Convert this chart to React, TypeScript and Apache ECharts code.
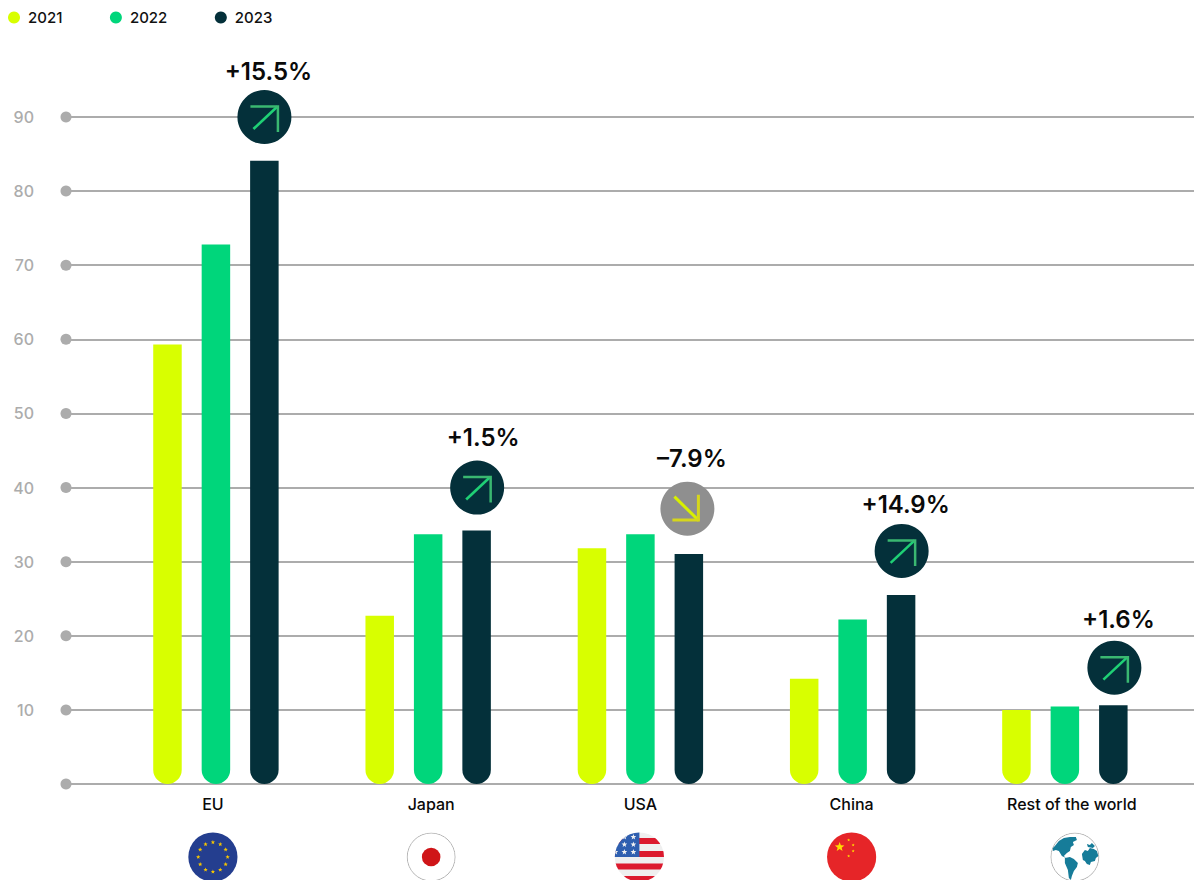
import React, { useEffect, useRef } from "react";
import * as echarts from "echarts";

const categories = ["EU", "Japan", "USA", "China", "Rest of the world"];
const values2021 = [59.3, 22.7, 31.8, 14.2, 10];
const values2022 = [72.8, 33.7, 33.7, 22.2, 10.45];
const values2023 = [84.1, 34.2, 31.05, 25.5, 10.62];
const changeLabels = ["+15.5%", "+1.5%", "–7.9%", "+14.9%", "+1.6%"];
const badgeLevels = [90, 40, 37.15, 31.45, 15.7];
const yTicks = [0, 10, 20, 30, 40, 50, 60, 70, 80, 90];

const LIME = "#d8ff00";
const GREEN = "#00d67b";
const DARK = "#04303a";
const GRID_GREY = "#acacac";
const FONT = "Inter";

const PLOT_TOP = 117;
const PLOT_BOTTOM = 96;
const BAR_STEP = 48.5;

const svgUri = (body: string) =>
  "data:image/svg+xml;charset=utf-8," +
  encodeURIComponent(
    `<svg xmlns="http://www.w3.org/2000/svg" width="100" height="100" viewBox="0 0 50 50"><defs><clipPath id="c"><circle cx="25" cy="25" r="24.6"/></clipPath></defs><g clip-path="url(#c)">${body}</g></svg>`
  );

const starPoints = (cx: number, cy: number, r: number) => {
  const pts: string[] = [];
  for (let i = 0; i < 10; i++) {
    const a = -Math.PI / 2 + (i * Math.PI) / 5;
    const rad = i % 2 ? r * 0.42 : r;
    pts.push(`${(cx + rad * Math.cos(a)).toFixed(2)},${(cy + rad * Math.sin(a)).toFixed(2)}`);
  }
  return pts.join(" ");
};
const star = (cx: number, cy: number, r: number, fill: string) =>
  `<polygon points="${starPoints(cx, cy, r)}" fill="${fill}"/>`;

const euStars = Array.from({ length: 12 }, (_, i) => {
  const a = (i * Math.PI) / 6;
  return star(25 + 14.7 * Math.sin(a), 25 - 14.7 * Math.cos(a), 2.3, "#f7c600");
}).join("");

const usStripes = [6, 19, 31.5, 44]
  .map((y) => `<rect x="0" y="${y}" width="50" height="6" fill="#dc1a2e"/>`)
  .join("");
const usStars = [
  [19, 5], [10, 5], [19, 12.5], [10, 12.5], [1, 12.5], [19, 20], [10, 20], [1, 20],
]
  .map(([x, y]) => star(x, y, 3, "#f1f1f1"))
  .join("");

const flagImages = [
  svgUri(`<rect width="50" height="50" fill="#243e8f"/>${euStars}`),
  svgUri(
    `<circle cx="25" cy="25" r="24" fill="#fff" stroke="#b4b4b4" stroke-width="1"/><circle cx="25" cy="25" r="9.3" fill="#cf1518"/>`
  ),
  svgUri(
    `<rect width="50" height="50" fill="#efefef"/>${usStripes}<rect width="25" height="25" fill="#2f5fb0"/>${usStars}`
  ),
  svgUri(
    `<rect width="50" height="50" fill="#e62528"/>${star(13, 15, 5, "#ffde00")}${star(22, 8, 1.6, "#ffde00")}${star(26.5, 13, 1.6, "#ffde00")}${star(26.5, 19, 1.6, "#ffde00")}${star(22, 24, 1.6, "#ffde00")}`
  ),
  svgUri(
    `<circle cx="25" cy="25" r="24" fill="#fff" stroke="#b4b4b4" stroke-width="1"/>
     <g fill="#167c99">
       <path d="M5 14 L9 9 L14 6 L20 5 L26 5 L27 8 L23 10 L24 13 L21 15 L20 19 L17 21 L14 24 L16 26 L12 24 L9 19 L6 18 L3 19 L3 16 Z"/>
       <path d="M15 26 L20 25 L24 27 L28 31 L27 35 L24 39 L22 44 L21 48 L19 46 L18 38 L15 31 Z"/>
       <path d="M32 22 L35 18 L38 19 L40 16 L44 17 L47 19 L48.5 24 L46 26 L45 29 L41 30 L40 33 L37 32 L35 29 L33 28 Z"/>
       <path d="M37 12 L40 13 L42 11 L45 14 L43 16 L38 15 Z"/>
     </g>`
  ),
];
const flagShift = [-3, 3, -1, -1, 10];
const flagCentreY = 857;
const flagDiameter = 50;

// Label centres sit slightly off the category centres, handled through rich-text padding.
const labelPadding = [
  [0, 6, 0, 0],
  [0, 0, 2, 6],
  [0, 0, 0, 0],
  [0, 2, 4, 0],
  [0, 0, 4, 14],
];

// Badge nudges around the third bar of each group, and the height of the text above each badge.
const badgeNudge = [0, 0.5, -1.5, 0.5, 1];
const textRise = [46, 50.5, 50.5, 46, 48.5];
const textShift = [4, 6, 4.5, 4, 4];

const badgeItem = (_params: any, api: any) => {
  const index = api.value(0);
  const [cx0, cy] = api.coord([index, api.value(1)]);
  const cx = cx0 + BAR_STEP + badgeNudge[index];
  const up = changeLabels[index].startsWith("+");
  const shaft = up ? [[-11, 12], [13, -10.5]] : [[-13, -12], [11.5, 12]];
  const head = up
    ? [[-14, -10.5], [13.5, -10.5], [13.5, 15]]
    : [[-15, 11.3], [11, 11.3], [11, -14]];
  return {
    type: "group",
    x: cx,
    y: cy,
    children: [
      { type: "circle", shape: { cx: 0, cy: 0, r: 27 }, style: { fill: up ? DARK : "#8f8f8f" } },
      {
        type: "line",
        shape: { x1: shaft[0][0], y1: shaft[0][1], x2: shaft[1][0], y2: shaft[1][1] },
        style: { stroke: up ? "#1fd075" : "#d8f000", lineWidth: up ? 2.6 : 3, fill: "none" },
      },
      {
        type: "polyline",
        shape: { points: head },
        style: { stroke: up ? "#3ab871" : "#d6d61c", lineWidth: up ? 2.5 : 3, fill: "none" },
      },
      {
        type: "text",
        x: textShift[index],
        y: -textRise[index],
        style: {
          text: changeLabels[index],
          fontFamily: FONT,
          fontSize: 24,
          fontWeight: 600,
          fill: "#0a0a0a",
          align: "center",
          verticalAlign: "middle",
        },
      },
    ],
  };
};

const flagItem = (_params: any, api: any) => {
  const index = api.value(0);
  const [cx] = api.coord([index, 0]);
  return {
    type: "image",
    style: {
      image: flagImages[index],
      x: cx + flagShift[index] - flagDiameter / 2,
      y: flagCentreY - flagDiameter / 2,
      width: flagDiameter,
      height: flagDiameter,
    },
  };
};

const barSeries = (name: string, data: number[], color: string) => ({
  name,
  type: "bar",
  xAxisIndex: 1,
  yAxisIndex: 1,
  data,
  barWidth: 28.5,
  barGap: "70%",
  z: 3,
  itemStyle: { color, borderRadius: [0, 0, 14.25, 14.25] },
});

export default function App() {
  const ref = useRef<HTMLDivElement>(null);

  useEffect(() => {
    document.body.style.margin = "0";
    const chart = echarts.init(ref.current!, undefined, { renderer: "svg" });
    chart.setOption({
      animation: false,
      backgroundColor: "#ffffff",
      textStyle: { fontFamily: FONT },
      legend: {
        left: 3,
        top: 5,
        data: ["2021", "2022", "2023"],
        icon: "circle",
        itemWidth: 12,
        itemHeight: 12,
        itemGap: 47.5,
        selectedMode: false,
        textStyle: {
          color: "#111111",
          fontSize: 15,
          fontWeight: 500,
          fontFamily: FONT,
          padding: [0, 0, 0, 3],
        },
      },
      grid: [
        { left: 66, right: 0, top: PLOT_TOP, bottom: PLOT_BOTTOM },
        { left: 109.8, right: 23, top: PLOT_TOP, bottom: PLOT_BOTTOM },
      ],
      xAxis: [
        { type: "value", gridIndex: 0, min: 0, max: 1, show: false },
        {
          type: "category",
          gridIndex: 1,
          data: categories,
          axisLine: { show: false },
          axisTick: { show: false },
          axisLabel: {
            margin: 12,
            interval: 0,
            formatter: (value: string) => `{c${categories.indexOf(value)}|${value}}`,
            rich: Object.fromEntries(
              categories.map((_, i) => [
                `c${i}`,
                { padding: labelPadding[i], fontFamily: FONT, fontSize: 16, fontWeight: 500, color: "#0a0a0a" },
              ])
            ),
          },
        },
      ],
      yAxis: [
        {
          type: "value",
          gridIndex: 0,
          min: 0,
          max: 90,
          interval: 10,
          axisLine: { show: false },
          axisTick: { show: false },
          axisLabel: {
            margin: 32,
            color: GRID_GREY,
            fontFamily: FONT,
            fontSize: 16,
            fontWeight: 500,
            formatter: (v: number) => (v === 0 ? "" : String(v)),
          },
          splitLine: { show: true, lineStyle: { color: GRID_GREY, width: 2 } },
        },
        { type: "value", gridIndex: 1, min: 0, max: 90, interval: 10, show: false },
      ],
      series: [
        {
          name: "ticks",
          type: "scatter",
          xAxisIndex: 0,
          yAxisIndex: 0,
          data: yTicks.map((t) => [0, t]),
          symbol: "circle",
          symbolSize: 11,
          clip: false,
          z: 2,
          itemStyle: { color: GRID_GREY, opacity: 1 },
        },
        barSeries("2021", values2021, LIME),
        barSeries("2022", values2022, GREEN),
        barSeries("2023", values2023, DARK),
        {
          name: "change",
          type: "custom",
          xAxisIndex: 1,
          yAxisIndex: 1,
          data: badgeLevels.map((v, i) => [i, v]),
          renderItem: badgeItem,
          clip: false,
          z: 5,
        },
        {
          name: "flags",
          type: "custom",
          xAxisIndex: 1,
          yAxisIndex: 1,
          data: categories.map((_, i) => [i, 0]),
          renderItem: flagItem,
          clip: false,
          z: 5,
        },
      ],
    });
    return () => chart.dispose();
  }, []);

  return (
    <div
      ref={ref}
      style={{ position: "absolute", left: 0, top: 0, width: 1194, height: 880, overflow: "hidden" }}
    />
  );
}
